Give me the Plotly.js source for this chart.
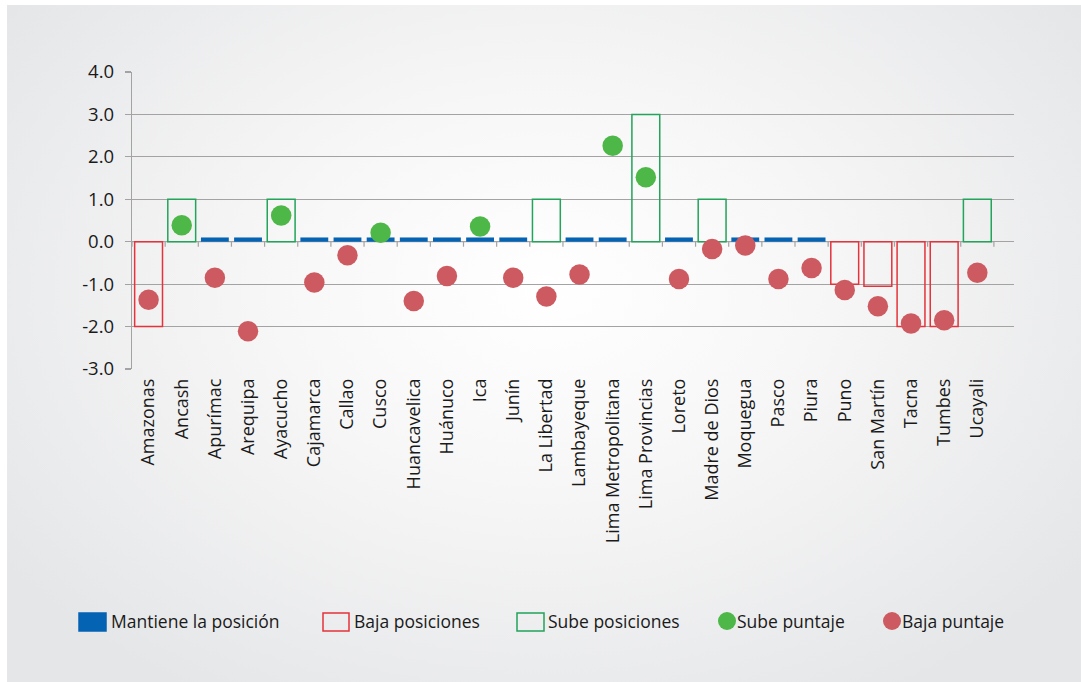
<!DOCTYPE html>
<html>
<head>
<meta charset="utf-8">
<script src="https://cdn.plot.ly/plotly-3.0.1.min.js"></script>
<style>
  html, body { margin: 0; padding: 0; background: #ffffff; width: 1081px; height: 682px; overflow: hidden; }
  #bg { position: absolute; left: 7px; top: 5px; right: 0; bottom: 0;
        background: radial-gradient(ellipse 62% 70% at 50% 42%, #ffffff 0%, #f7f7f7 40%, #e5e6e8 100%); }
  #chart { position: absolute; left: 0; top: 0; width: 1081px; height: 682px; }
</style>
</head>
<body>
<div id="bg"></div>
<div id="chart"></div>
<script>
// ---- data ----
const categories = ["Amazonas","Ancash","Apurímac","Arequipa","Ayacucho","Cajamarca","Callao","Cusco",
  "Huancavelica","Huánuco","Ica","Junín","La Libertad","Lambayeque","Lima Metropolitana","Lima Provincias",
  "Loreto","Madre de Dios","Moquegua","Pasco","Piura","Puno","San Martín","Tacna","Tumbes","Ucayali"];

// bars: change in ranking positions
const mantiene = [null,null,0.1,0.1,null,0.1,0.1,0.1,0.1,0.1,0.1,0.1,null,0.1,0.1,null,0.1,null,0.1,0.1,0.1,null,null,null,null,null];
const bajaPos  = [-2,null,null,null,null,null,null,null,null,null,null,null,null,null,null,null,null,null,null,null,null,-1,-1.05,-2,-2,null];
const subePos  = [null,1,null,null,1,null,null,null,null,null,null,null,1,null,null,3,null,1,null,null,null,null,null,null,null,1];

// dots: change in score
const subePuntaje = [null,0.39,null,null,0.62,null,null,0.21,null,null,0.36,null,null,null,2.26,1.52,null,null,null,null,null,null,null,null,null,null];
const bajaPuntaje = [-1.37,null,-0.85,-2.11,null,-0.96,-0.32,null,-1.40,-0.81,null,-0.85,-1.29,-0.77,null,null,-0.88,-0.17,-0.09,-0.88,-0.62,-1.14,-1.52,-1.93,-1.85,-0.73];

const yTicks = [-3,-2,-1,0,1,2,3,4];
const yTickText = ["-3.0","-2.0","-1.0","0.0","1.0","2.0","3.0","4.0"];

const legendLabels = ["Mantiene la posición","Baja posiciones","Sube posiciones","Sube puntaje","Baja puntaje"];

// ---- styles ----
const C_BLUE = "#0563B4", C_RED_LINE = "#E5323B", C_GREEN_LINE = "#22A45A";
const C_GREEN_DOT = "#4DB748", C_RED_DOT = "#CD5A60", GRID = "#A3A3A3";
const FONT = "Open Sans, Noto Sans, sans-serif";

const xIdx = categories.map((_, i) => i);
const BW = 0.84;

const traces = [
  { type: "bar", x: xIdx, y: mantiene, base: 0, width: BW, name: legendLabels[0], showlegend: false,
    marker: { color: C_BLUE, line: { width: 0 } }, hoverinfo: "skip" },
  { type: "bar", x: xIdx, y: bajaPos, width: BW, name: legendLabels[1], showlegend: false,
    marker: { color: "rgba(0,0,0,0)", line: { color: C_RED_LINE, width: 1.5 } }, hoverinfo: "skip" },
  { type: "bar", x: xIdx, y: subePos, width: BW, name: legendLabels[2], showlegend: false,
    marker: { color: "rgba(0,0,0,0)", line: { color: C_GREEN_LINE, width: 1.5 } }, hoverinfo: "skip" },
  { type: "scatter", mode: "markers", x: xIdx, y: subePuntaje, name: legendLabels[3], showlegend: false,
    marker: { color: C_GREEN_DOT, size: 20.5, line: { width: 0 } }, hoverinfo: "skip" },
  { type: "scatter", mode: "markers", x: xIdx, y: bajaPuntaje, name: legendLabels[4], showlegend: false,
    marker: { color: C_RED_DOT, size: 20.5, line: { width: 0 } }, hoverinfo: "skip" }
];

// ---- layout geometry ----
const W = 1081, H = 682;
const M = { l: 132, r: 67, t: 72, b: 313 };
const pw = W - M.l - M.r, ph = H - M.t - M.b;
const px2x = px => (px - M.l) / pw;
const py2y = py => (H - M.b - py) / ph;

const shapes = [];
// category axis line at zero
shapes.push({ type: "line", xref: "x", yref: "y", x0: -0.5, x1: categories.length - 0.5, y0: 0, y1: 0,
  line: { color: GRID, width: 1.2 }, layer: "below" });
// tick marks at category boundaries
for (let k = 0; k <= categories.length; k++) {
  shapes.push({ type: "line", xref: "x", yref: "y", ysizemode: "pixel", yanchor: 0,
    x0: k - 0.5, x1: k - 0.5, y0: 0, y1: -5, line: { color: GRID, width: 1.2 }, layer: "below" });
}

// custom legend
const annotations = [];
const legY0 = 613, legY1 = 631, legYc = 621;
const legItems = [
  { x0: 79, x1: 106, tx: 109, kind: "rect", fill: C_BLUE, line: C_BLUE },
  { x0: 323, x1: 349, tx: 352, kind: "rect", fill: "rgba(0,0,0,0)", line: C_RED_LINE },
  { x0: 517, x1: 544, tx: 546, kind: "rect", fill: "rgba(0,0,0,0)", line: C_GREEN_LINE },
  { x0: 718, x1: 736, tx: 735, kind: "circle", fill: C_GREEN_DOT, line: C_GREEN_DOT },
  { x0: 883, x1: 901, tx: 900, kind: "circle", fill: C_RED_DOT, line: C_RED_DOT }
];
legItems.forEach((it, i) => {
  const circ = it.kind === "circle";
  shapes.push({ type: circ ? "circle" : "rect", xref: "paper", yref: "paper",
    x0: px2x(it.x0), x1: px2x(it.x1),
    y0: py2y(circ ? legYc + 9 : legY1), y1: py2y(circ ? legYc - 9 : legY0),
    fillcolor: it.fill, line: { color: it.line, width: circ ? 0 : 1.5 } });
  annotations.push({ xref: "paper", yref: "paper", x: px2x(it.tx), y: py2y(legYc),
    xanchor: "left", yanchor: "middle", showarrow: false, text: legendLabels[i],
    font: { family: FONT, size: 17.5, color: "#1a1a1a" } });
});

const layout = {
  width: W, height: H,
  margin: M,
  paper_bgcolor: "rgba(0,0,0,0)",
  plot_bgcolor: "rgba(0,0,0,0)",
  barmode: "overlay",
  showlegend: false,
  font: { family: FONT, color: "#1a1a1a" },
  xaxis: {
    range: [-0.5, -0.5 + pw / 33.15],
    tickmode: "array", tickvals: xIdx, ticktext: categories,
    tickangle: -90, tickfont: { family: FONT, size: 18, color: "#1a1a1a" },
    showgrid: false, zeroline: false, showline: false, ticks: "", ticklabelstandoff: 5,
    fixedrange: true
  },
  yaxis: {
    range: [-3, 4],
    tickmode: "array", tickvals: yTicks, ticktext: yTickText,
    tickfont: { family: FONT, size: 18.5, color: "#1a1a1a" },
    showgrid: true, gridcolor: GRID, gridwidth: 1.2,
    zeroline: false, showline: true, linecolor: GRID, linewidth: 1.2,
    ticks: "outside", ticklen: 6, tickcolor: GRID, tickwidth: 1.2,
    ticklabelstandoff: 7,
    fixedrange: true
  },
  shapes: shapes,
  annotations: annotations
};

Plotly.newPlot("chart", traces, layout, { displayModeBar: false, staticPlot: true });
</script>
</body>
</html>
